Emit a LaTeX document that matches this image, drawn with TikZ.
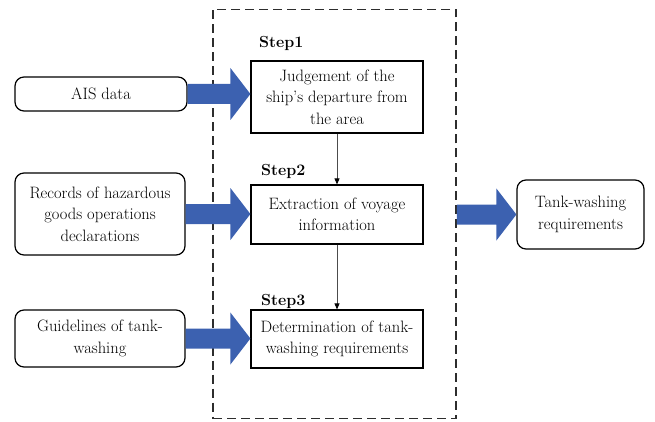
\documentclass[tikz,border=0pt]{standalone}
\usetikzlibrary{arrows.meta,calc}
\definecolor{arrowblue}{RGB}{60,97,176}
\definecolor{framegray}{RGB}{45,45,45}
\begin{document}
\begin{tikzpicture}[x=1pt,y=-1pt,
  txt/.style={font=\fontsize{16.5}{21.5}\selectfont, align=center, inner sep=0pt},
  inbox/.style={txt, draw=black, line width=1.2pt, rounded corners=9pt, fill=white},
  stepbox/.style={txt, draw=black, line width=1.2pt, fill=white},
  steplabel/.style={font=\fontsize{16}{19}\selectfont\bfseries, anchor=west, inner sep=0pt},
  thinarrow/.style={draw=black!70, line width=0.8pt, -{Triangle[length=6pt,width=5pt,fill=black,color=black]}},
  fatarrow/.style={fill=arrowblue}
]
\useasboundingbox (0,0) rectangle (655,422);

% dashed frame
\node[draw=framegray, dash pattern=on 9pt off 5pt, line width=1.5pt,
      minimum width=243pt, minimum height=409pt, inner sep=0pt] (frame) at (334.5,214) {};

% step boxes
\node[stepbox, minimum width=172pt, minimum height=72pt] (s1) at (337,97)
  {Judgement of the\\ship's departure from\\the area};
\node[stepbox, minimum width=172pt, minimum height=59pt] (s2) at (337,214.5)
  {Extraction of voyage\\information};
\node[stepbox, minimum width=172pt, minimum height=58pt] (s3) at (337,339)
  {Determination of tank-\\washing requirements};

\node[steplabel] (l1) at (259,43) {Step1};
\node[steplabel] (l2) at (261,171) {Step2};
\node[steplabel] (l3) at (261,301) {Step3};

% input boxes
\node[inbox, minimum width=172pt, minimum height=34pt] (ais) at (101,94) {AIS data};
\node[inbox, minimum width=170pt, minimum height=82pt] (rec) at (100,214)
  {Records of hazardous\\goods operations\\declarations};
\node[inbox, minimum width=170pt, minimum height=57pt] (gui) at (100,338.5)
  {Guidelines of tank-\\washing};
\node[inbox, minimum width=127pt, minimum height=69pt] (tank) at (580.5,214.5)
  {Tank-washing\\requirements};

% thin arrows
\draw[thinarrow] (s1.south) -- (s2.north);
\draw[thinarrow] (s2.south) -- (s3.north);

% fat block arrows
\newcommand\fatarr[2]{%
  \fill[fatarrow] let \p1=(#1), \p2=(#2) in
    (\x1,\y1+10pt) -- (\x2-20pt,\y1+10pt) -- (\x2-20pt,\y1+26pt) -- (\x2,\y1)
    -- (\x2-20pt,\y1-26pt) -- (\x2-20pt,\y1-10pt) -- (\x1,\y1-10pt) -- cycle;}
\fatarr{ais.east}{s1.west}
\fatarr{rec.east}{s2.west}
\fatarr{gui.east}{s3.west}
\coordinate (fo) at (frame.east |- tank.west);
\fatarr{fo}{tank.west}
\end{tikzpicture}
\end{document}
